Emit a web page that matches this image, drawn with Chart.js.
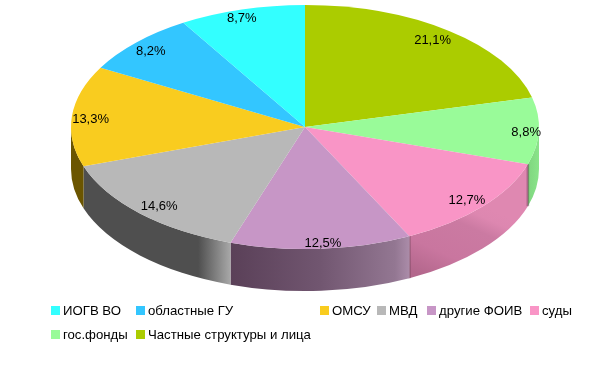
<!DOCTYPE html>
<html>
<head>
<meta charset="utf-8">
<style>
  html, body { margin: 0; padding: 0; background: #fff; }
  #wrap { position: relative; width: 593px; height: 366px; }
</style>
<script src="https://cdn.jsdelivr.net/npm/chart.js@4"></script>
</head>
<body>
<div id="wrap"><canvas id="pieChart"></canvas></div>
<script>
const categories = ['Частные структуры и лица', 'гос.фонды', 'суды', 'другие ФОИВ', 'МВД', 'ОМСУ', 'областные ГУ', 'ИОГВ ВО'];
const shares = [21.1, 8.8, 12.7, 12.5, 14.6, 13.3, 8.2, 8.7];
const colors = ['#abcc00', '#99fb99', '#f995c6', '#c796c6', '#b8b8b8', '#f9cc1f', '#33c6ff', '#33ffff'];

// side wall shading, one list per slice
const wallStops = [
    [],
    [[0, '#7fd67f'], [1, '#8ae48a']],
    [[0.08, '#b3678c'], [0.38, '#c9769f'], [0.74, '#cb7aa2'], [0.89, '#dd87b0'], [1, '#df88b1']],
    [[0, '#5a4058'], [0.5, '#715670'], [0.92, '#937792'], [1, '#ab8ca9']],
    [[0, '#4f4f4f'], [0.78, '#4f4f4f'], [1, '#a8a8a8']],
    [[0, '#6b5500'], [1, '#6b5500']],
    [],
    []
];
const wallSlant = [0, 0, 40, 0, 0, 0, 0, 0];
const wallEdge = [false, false, true, false, false, false, false, false];

// label nudges in px, same order as shares
const labelDx = [-5, 6, -1.5, 3, 6, 0, 1, -5];
const labelDy = [2, 2, 0, 4, 0, 2, 2, -1];

// legend order and placement
const legendOrder = [7, 6, 5, 4, 3, 2, 1, 0];
const legendX = [51, 136, 320, 377, 427, 530, 51, 136];
const legendY = [310, 310, 310, 310, 310, 310, 334, 334];

const rx = 234;
const ry = 122;
const depth = 42;
const labelPos = 0.92;

const flatPie = {
    id: 'flatPie',
    beforeDatasetsDraw(chart) {
        const ctx = chart.ctx;
        const arcs = chart.getDatasetMeta(0).data;
        const cx = arcs[0].x;
        const cy = arcs[0].y;
        const r = arcs[0].outerRadius;

        // wall first, the top goes over it
        arcs.forEach((arc, i) => {
            const a0 = Math.max(arc.startAngle, 0);
            const a1 = Math.min(arc.endAngle, Math.PI);
            if (a1 <= a0 || !wallStops[i].length) return;
            const xa = cx + rx * Math.cos(a0);
            const xb = cx + rx * Math.cos(a1);
            let grad;
            if (wallSlant[i]) {
                const yb = cy + ry * Math.sin(a1) + depth;
                grad = ctx.createLinearGradient(xb, yb, xb + wallSlant[i], yb - 88);
            } else {
                grad = ctx.createLinearGradient(Math.min(xa, xb), 0, Math.max(xa, xb), 0);
            }
            wallStops[i].forEach(s => grad.addColorStop(s[0], s[1]));
            ctx.beginPath();
            ctx.ellipse(cx, cy, rx, ry, 0, a0, a1);
            ctx.ellipse(cx, cy + depth, rx, ry, 0, a1, a0, true);
            ctx.closePath();
            ctx.fillStyle = grad;
            ctx.fill();

            if (wallEdge[i]) {
                ctx.strokeStyle = 'rgba(90, 50, 70, 0.45)';
                ctx.lineWidth = 2.5;
                [a0, a1].forEach(a => {
                    const x = cx + rx * Math.cos(a);
                    const y = cy + ry * Math.sin(a);
                    ctx.beginPath();
                    ctx.moveTo(x, y);
                    ctx.lineTo(x, y + depth);
                    ctx.stroke();
                });
            }
        });

        ctx.save();
        ctx.translate(cx, cy);
        ctx.scale(rx / r, ry / r);
        ctx.translate(-cx, -cy);
    },
    afterDatasetsDraw(chart) {
        const ctx = chart.ctx;
        ctx.restore();

        const arcs = chart.getDatasetMeta(0).data;
        ctx.save();
        ctx.font = '13px "Liberation Sans"';
        ctx.fillStyle = '#000';
        ctx.textAlign = 'center';
        ctx.textBaseline = 'middle';
        arcs.forEach((arc, i) => {
            const mid = (arc.startAngle + arc.endAngle) / 2;
            const x = arc.x + rx * labelPos * Math.cos(mid) + labelDx[i];
            const y = arc.y + ry * labelPos * Math.sin(mid) + labelDy[i];
            ctx.fillText(shares[i].toFixed(1).replace('.', ',') + '%', x, y);
        });

        ctx.font = '13.2px "Liberation Sans"';
        ctx.textAlign = 'left';
        legendOrder.forEach((idx, i) => {
            ctx.fillStyle = colors[idx];
            ctx.fillRect(legendX[i], legendY[i] - 4, 9, 9);
            ctx.fillStyle = '#000';
            ctx.fillText(categories[idx], legendX[i] + 12, legendY[i] + 1);
        });
        ctx.restore();
    }
};

new Chart(document.getElementById('pieChart').getContext('2d'), {
    type: 'pie',
    data: {
        labels: categories,
        datasets: [{
            data: shares,
            backgroundColor: colors,
            borderWidth: 0,
            clip: false
        }]
    },
    options: {
        responsive: true,
        maintainAspectRatio: false,
        animation: false,
        layout: { padding: { left: 17, right: 0, top: 0, bottom: 112 } },
        plugins: {
            legend: { display: false },
            tooltip: { enabled: false }
        }
    },
    plugins: [flatPie]
});
</script>
</body>
</html>
